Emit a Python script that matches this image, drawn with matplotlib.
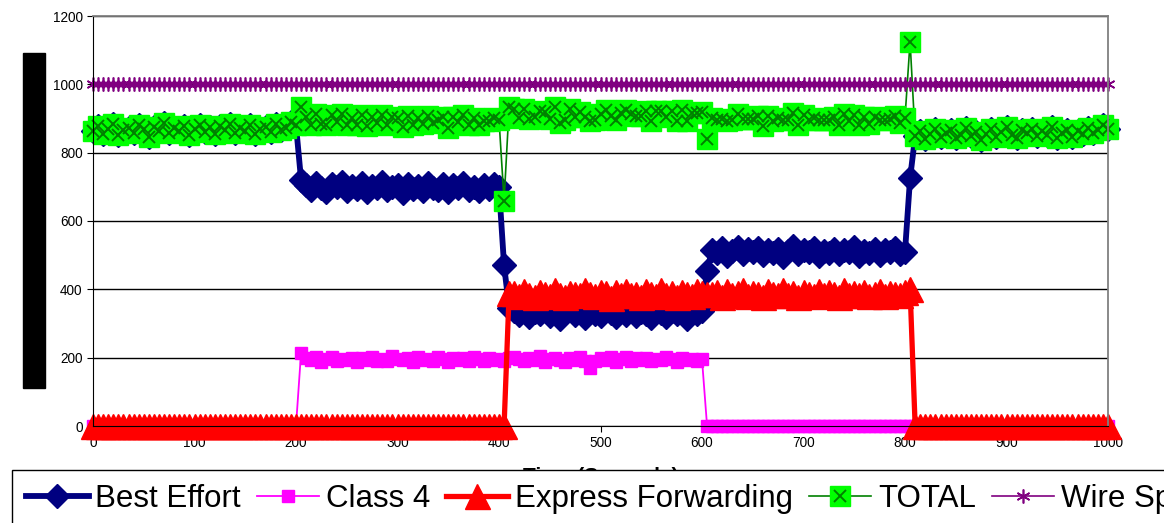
import numpy as np
import matplotlib
matplotlib.use("Agg")
import matplotlib.pyplot as plt
from matplotlib.patches import Rectangle
from matplotlib.legend_handler import HandlerTuple

plt.rcParams['font.family'] = ['Liberation Sans', 'DejaVu Sans']

# time axis, one sample every 5 seconds
time = list(range(0, 1001, 5))

# Best Effort per phase
be_a = [862, 878, 855, 870, 884, 851, 866, 873, 858, 880, 869, 847, 875, 862,
        886, 857, 871, 864, 879, 853, 868, 882, 860, 874, 856, 877, 866, 885,
        859, 872, 863, 881, 854, 870, 876, 861, 884, 867, 873, 890, 880]
be_b = [705, 690, 712, 696, 684, 708, 699, 715, 688, 702, 694, 710, 686, 703,
        697, 713, 691, 700, 706, 683, 709, 695, 701, 689, 711, 698, 692, 707,
        685, 704, 696, 712, 690, 699, 687, 705, 693, 708, 700]
be_c = [338, 325, 342, 318, 333, 327, 345, 321, 336, 312, 330, 341, 324, 335,
        316, 339, 328, 322, 343, 331, 319, 337, 326, 340, 323, 334, 329, 317,
        344, 332, 320, 338, 327, 335, 314, 341, 329, 336]
be_d = [515, 505, 520, 498, 512, 525, 503, 517, 508, 522, 500, 514, 507, 519,
        496, 511, 526, 504, 516, 509, 521, 499, 513, 506, 518, 502, 515, 510,
        523, 497, 512, 505, 517, 501, 514, 508, 520, 503, 510]
be_e = [848, 862, 840, 855, 870, 845, 858, 866, 843, 852, 871, 849, 860, 838,
        856, 868, 846, 861, 874, 853, 842, 865, 857, 870, 848, 863, 851, 876,
        844, 859, 867, 847, 862, 854, 872, 858, 866, 880, 868]

# Class 4 per phase
c4_b = [198, 192, 201, 188, 196, 203, 190, 197, 194, 200, 186, 199, 193, 202,
        191, 196, 189, 204, 195, 192, 199, 187, 201, 194, 197, 190, 203, 196,
        188, 200, 193, 198, 191, 202, 195, 189, 199, 194, 197]
c4_c = [201, 196, 190, 199, 193, 204, 188, 197, 200, 192, 186, 198, 194, 202,
        190, 170, 189, 199, 193, 201, 187, 196, 203, 191, 198, 194, 200, 189,
        197, 192, 202, 195, 188, 199, 193, 196, 191, 195]

# Express Forwarding per phase
ef_c = [388, 380, 395, 383, 378, 392, 386, 381, 397, 384, 379, 390, 387, 382,
        399, 385, 380, 393, 388, 376, 391, 384, 396, 382, 387, 379, 394, 386,
        381, 398, 383, 389, 378, 392, 385, 380, 395, 388]
ef_d = [386, 392, 379, 395, 383, 388, 397, 381, 390, 385, 378, 394, 387, 382,
        399, 384, 389, 377, 393, 386, 380, 396, 383, 391, 385, 379, 398, 382,
        388, 384, 393, 380, 387, 395, 381, 390, 386, 383, 392]

best_effort = be_a + [720] + be_b + [470, 345] + be_c + [455] + be_d + [725] + be_e
class4 = [0] * 41 + [215] + c4_b + [190, 200] + c4_c + [0] + [0] * 39 + [0] + [0] * 39
express = [0] * 41 + [0] + [0] * 39 + [0, 390] + ef_c + [385] + ef_d + [400] + [0] * 39
wire_speed = [1000] * len(time)

best_effort = np.array(best_effort)
class4 = np.array(class4)
express = np.array(express)
total = best_effort + class4 + express

fig = plt.figure(figsize=(11.64, 5.23), dpi=100)
ax = fig.add_axes([93 / 1164, 1 - 426 / 523, 1015 / 1164, 410 / 523])

h_be, = ax.plot(time, best_effort, color='#000080', lw=4.2, marker='D', ms=12,
                mec='#000080', clip_on=False)
h_c4, = ax.plot(time, class4, color='#FF00FF', lw=1.3, marker='s', ms=8,
                mec='#FF00FF', clip_on=False)
h_ef, = ax.plot(time, express, color='#FF0000', lw=3.8, marker='^', ms=18,
                mec='#FF0000', clip_on=False)
h_tot, = ax.plot(time, total, color='#008000', lw=1.2, marker='s', ms=14,
                 mfc='#00FF00', mec='#00FF00', clip_on=False)
h_totx, = ax.plot(time, total, ls='none', marker='x', ms=9, mew=1.4,
                  color='#008000', clip_on=False)
h_wire, = ax.plot(time, wire_speed, color='#800080', lw=1.2, marker=(6, 2, 0),
                  ms=10, mew=1.2, clip_on=False)

ax.set_xlim(0, 1000)
ax.set_ylim(0, 1200)
ax.set_xticks(range(0, 1001, 100))
ax.set_yticks(range(0, 1201, 200))
ax.yaxis.grid(True, color='black', lw=1)
ax.set_axisbelow(True)
ax.tick_params(direction='out', length=4, labelsize=9.8, colors='black')
for side in ['top', 'right']:
    ax.spines[side].set_color('#808080')
    ax.spines[side].set_linewidth(1.3)
for side in ['left', 'bottom']:
    ax.spines[side].set_color('black')

ax.set_xlabel('Time (Seconds)', fontsize=15, fontweight='bold')
ax.xaxis.set_label_coords(0.5, -0.101)

fig.add_artist(Rectangle((23 / 1164, 1 - 388 / 523), 22 / 1164, 335 / 523,
                         transform=fig.transFigure, color='black'))

leg = fig.legend([h_be, h_c4, h_ef, (h_tot, h_totx), h_wire],
                 ['Best Effort', 'Class 4', 'Express Forwarding', 'TOTAL', 'Wire Speed'],
                 handler_map={tuple: HandlerTuple(ndivide=1, pad=0)},
                 loc='upper left', bbox_to_anchor=(12 / 1164, 1 - 470 / 523),
                 bbox_transform=fig.transFigure, ncol=5, fontsize=22.5,
                 frameon=True, fancybox=False, edgecolor='black', framealpha=1,
                 borderpad=0.45, handlelength=2.0, handletextpad=0.22,
                 columnspacing=0.5, borderaxespad=0)
leg.get_frame().set_linewidth(1)

fig.savefig('out.png', dpi=100)
